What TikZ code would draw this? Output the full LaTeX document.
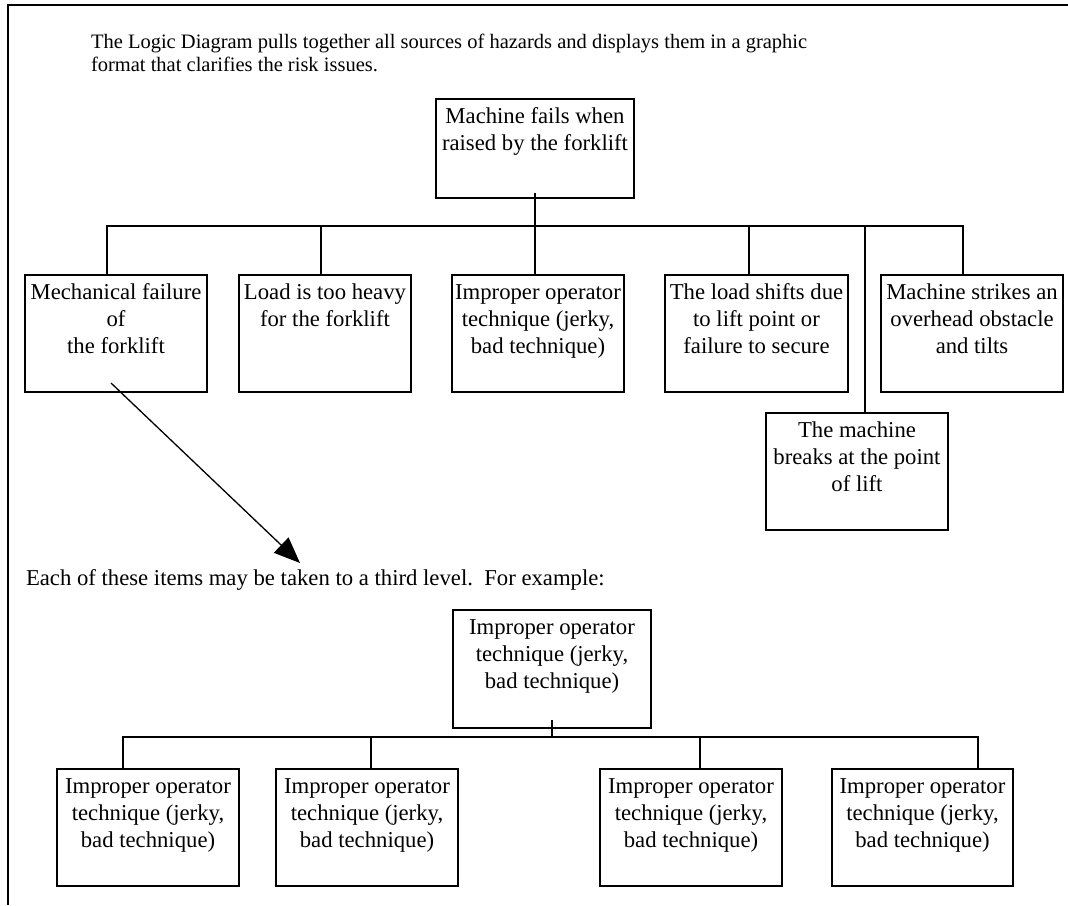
\documentclass[tikz,border=0pt]{standalone}
\usepackage{fontspec}
\setmainfont{Liberation Serif}
\usetikzlibrary{arrows.meta}

% box text: fixed-size parbox, lines centred and hung from the top edge
\newcommand\hazardtext[3]{\parbox[t][#2][t]{#1}{\centering\fontsize{22.7}{27}\selectfont\rule{0pt}{24pt}#3}}

\begin{document}
\begin{tikzpicture}[x=1pt,y=-1pt,
  hz/.style={draw, line width=1.5pt, inner sep=0pt, outer sep=0pt, anchor=north west},
  link/.style={line width=1.3pt},
  caption/.style={inner sep=0pt, outer sep=0pt}]
\useasboundingbox (0,0) rectangle (1068,905);

% page frame (left and top rules)
\draw[line width=1.8pt] (8,905) -- (8,5) -- (1068,5);

% introduction
\node[caption, anchor=north west] (intro) at (91,30)
  {\parbox[t]{760pt}{\fontsize{20.5}{23}\selectfont\rule{0pt}{18pt}The Logic Diagram pulls together all sources of hazards and displays them in a graphic\\
   format that clarifies the risk issues.}};

% top event
\node[hz] (top) at (436,99) {\hazardtext{198pt}{99pt}{Machine fails when\\raised by the forklift}};

% second level
\node[hz] (m1) at (25,275)  {\hazardtext{182pt}{117pt}{Mechanical failure\\of\\the forklift}};
\node[hz] (m2) at (239,275) {\hazardtext{172pt}{117pt}{Load is too heavy\\for the forklift}};
\node[hz] (m3) at (452,275) {\hazardtext{172pt}{117pt}{Improper operator\\technique (jerky,\\bad technique)}};
\node[hz] (m4) at (665,275) {\hazardtext{183pt}{117pt}{The load shifts due\\to lift point or\\failure to secure}};
\node[hz] (m5) at (881,275) {\hazardtext{182pt}{117pt}{Machine strikes an\\overhead obstacle\\and tilts}};
\node[hz] (m6) at (766,413) {\hazardtext{182pt}{117pt}{The machine\\breaks at the point\\of lift}};

% tree lines, level one to two
\path (top.south) ++(0,28) coordinate (bus1);
\draw[link] ([yshift=5pt]top.south) -- (top.south |- m3.north);
\draw[link] ([xshift=82pt]m1.north west) |- (bus1);
\draw[link] ([xshift=82pt]m2.north west) |- (bus1);
\draw[link] ([xshift=84pt]m4.north west) |- (bus1);
\draw[link] ([xshift=82pt]m5.north west) |- (bus1);
\draw[link] ([xshift=99pt]m6.north west) |- (bus1);

% pointer to the note
\coordinate (tip) at (300,563);
\draw[link, -{Triangle[length=26pt,width=21pt]}] ([xshift=86pt,yshift=9pt]m1.south west) -- (tip);

\node[caption, anchor=base west] (note) at (26,585)
  {\fontsize{22.7}{27}\selectfont Each of these items may be taken to a third level.\hspace{0.5em}For example:};

% third level example
\node[hz] (c0) at (453,610) {\hazardtext{198pt}{118pt}{Improper operator\\technique (jerky,\\bad technique)}};
\node[hz] (c1) at (57,769)  {\hazardtext{182pt}{117pt}{Improper operator\\technique (jerky,\\bad technique)}};
\node[hz] (c2) at (276,769) {\hazardtext{182pt}{117pt}{Improper operator\\technique (jerky,\\bad technique)}};
\node[hz] (c3) at (600,769) {\hazardtext{182pt}{117pt}{Improper operator\\technique (jerky,\\bad technique)}};
\node[hz] (c4) at (832,769) {\hazardtext{181pt}{117pt}{Improper operator\\technique (jerky,\\bad technique)}};

\path (c0.south) ++(0,9) coordinate (bus2);
\draw[link] ([yshift=8pt]c0.south) -- (bus2);
\draw[link] ([xshift=66pt]c1.north west) |- (bus2);
\draw[link] ([xshift=95pt]c2.north west) |- (bus2);
\draw[link] ([xshift=100pt]c3.north west) |- (bus2);
\draw[link] ([xshift=146pt]c4.north west) |- (bus2);
\end{tikzpicture}
\end{document}
